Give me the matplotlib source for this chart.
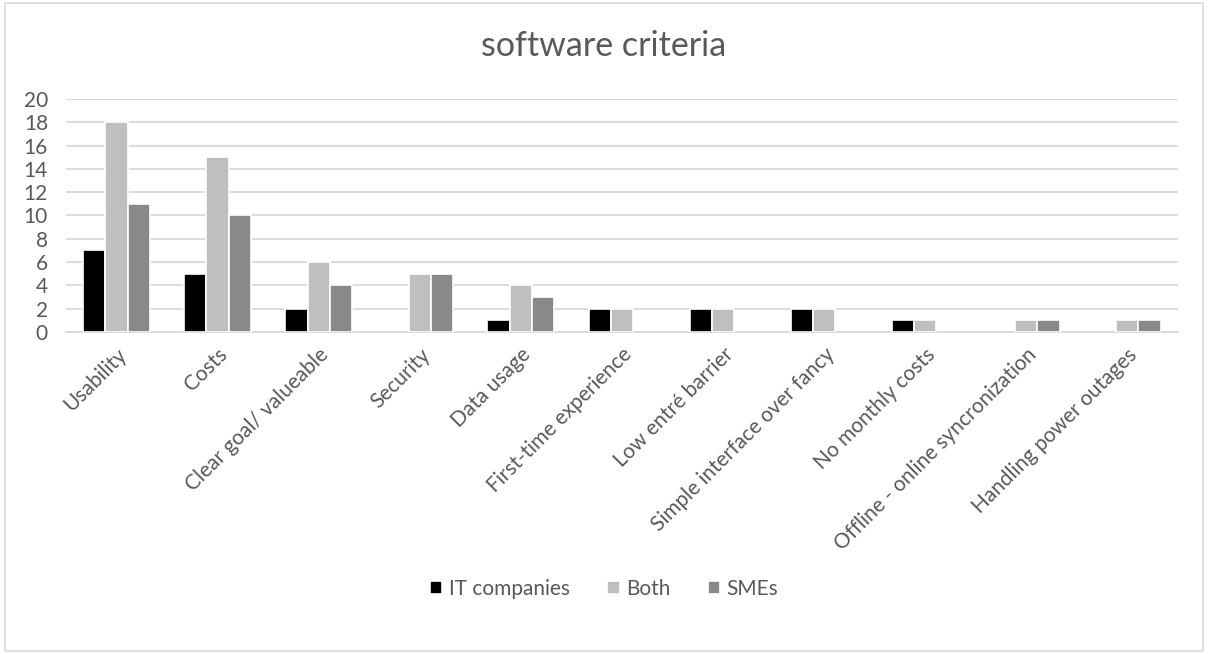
import numpy as np
import matplotlib.pyplot as plt
from matplotlib.patches import Rectangle

categories = [
    "Usability", "Costs", "Clear goal/ valueable", "Security", "Data usage",
    "First-time experience", "Low entré barrier", "Simple interface over fancy",
    "No monthly costs", "Offline - online syncronization", "Handling power outages",
]
it_companies = [7, 5, 2, 0, 1, 2, 2, 2, 1, 0, 0]
both = [18, 15, 6, 5, 4, 2, 2, 2, 1, 1, 1]
smes = [11, 10, 4, 5, 3, 0, 0, 0, 0, 1, 1]

series = [("IT companies", it_companies, "#000000"),
          ("Both", both, "#BFBFBF"),
          ("SMEs", smes, "#898989")]

plt.rcParams["font.family"] = ["Lato", "DejaVu Sans"]
text_col = "#595959"

fig = plt.figure(figsize=(12.08, 6.54), dpi=100)
ax = fig.add_axes([0.0546, 0.4924, 0.9204, 0.3562])

x = np.arange(len(categories))
slot = 0.22
for i, (name, vals, col) in enumerate(series):
    vals = np.array(vals, dtype=float)
    pos = x + (i - 1) * slot
    # zero-valued entries are simply not drawn
    h = np.where(vals > 0, vals, np.nan)
    ax.bar(pos, h, width=slot, color=col, edgecolor="white", linewidth=1.2,
           label=name, zorder=3)

ax.set_xlim(-0.5, len(categories) - 0.5)
ax.set_ylim(0, 20)
ax.set_yticks(range(0, 21, 2))
ax.yaxis.grid(True, color="#D9D9D9", linewidth=1.3, zorder=0)
ax.set_axisbelow(True)
for side in ["top", "right", "left"]:
    ax.spines[side].set_visible(False)
ax.spines["bottom"].set_color("#D9D9D9")
ax.spines["bottom"].set_linewidth(1.3)
ax.tick_params(axis="both", length=0, colors=text_col, labelsize=15)
ax.tick_params(axis="y", pad=13)
ax.tick_params(axis="x", pad=9)
ax.set_xticks(x)
ax.set_xticklabels(categories, rotation=45, ha="right", rotation_mode="anchor")

fig.text(0.5, 0.93, "software criteria", ha="center", va="center",
         fontsize=24.5, color=text_col)

handles, labels = ax.get_legend_handles_labels()
fig.legend(handles, labels, loc="center", bbox_to_anchor=(0.5, 0.1), ncol=3,
           frameon=False, fontsize=15, labelcolor=text_col, handlelength=0.6,
           handleheight=0.6, handletextpad=0.3, columnspacing=1.8)

fig.patches.append(Rectangle((0.004, 0.004), 0.992, 0.992, transform=fig.transFigure,
                             fill=False, edgecolor="#D9D9D9", linewidth=1.2))

fig.savefig("out.png", dpi=100, facecolor="white")
